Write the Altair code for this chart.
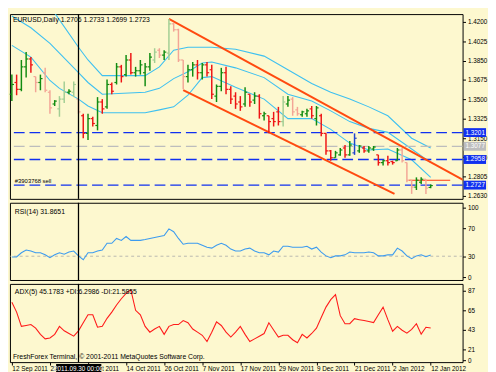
import altair as alt
import pandas as pd

# ---------------- data ----------------
idx = list(range(89))
opens = [1.3547,1.3653,1.3591,1.3794,1.3865,1.3706,1.3653,1.3741,1.3565,1.3459,
 1.3415,1.3503,1.3565,1.3565,1.3503,1.3353,1.3194,1.3327,1.3265,1.3477,
 1.3433,1.3635,1.3653,1.3794,1.3724,1.3856,1.3741,1.3759,1.3741,1.3794,
 1.3856,1.3944,1.3900,1.3918,1.4182,1.4129,1.3856,1.3706,1.3768,1.3812,
 1.3741,1.3812,1.3768,1.3530,1.3618,1.3741,1.3591,1.3530,1.3477,1.3459,
 1.3547,1.3494,1.3530,1.3353,1.3353,1.3327,1.3388,1.3300,1.3459,1.3503,
 1.3406,1.3362,1.3371,1.3415,1.3327,1.3353,1.3194,1.3036,1.2974,1.3000,
 1.3062,1.3000,1.3018,1.3036,1.3062,1.3036,1.3053,1.3000,1.2930,1.2947,
 1.2939,1.2947,1.3044,1.2930,1.2771,1.2709,1.2753,1.2780,1.2706]
highs = [1.3724,1.3724,1.3856,1.3927,1.3882,1.3706,1.3724,1.3785,1.3583,1.3494,
 1.3530,1.3662,1.3591,1.3662,1.3503,1.3371,1.3371,1.3344,1.3521,1.3503,
 1.3680,1.3653,1.3829,1.3812,1.3900,1.3918,1.3794,1.3856,1.3829,1.3918,
 1.3962,1.3962,1.3944,1.4226,1.4191,1.4138,1.3856,1.3812,1.3838,1.3856,
 1.3829,1.3838,1.3812,1.3635,1.3785,1.3794,1.3618,1.3565,1.3530,1.3609,
 1.3547,1.3565,1.3547,1.3388,1.3353,1.3388,1.3433,1.3530,1.3530,1.3521,
 1.3433,1.3397,1.3415,1.3441,1.3441,1.3371,1.3194,1.3044,1.3036,1.3062,
 1.3089,1.3124,1.3194,1.3089,1.3080,1.3080,1.3080,1.3000,1.2956,1.2992,
 1.2947,1.3062,1.3062,1.2930,1.2771,1.2797,1.2797,1.2780,1.2733]
lows = [1.3485,1.3538,1.3574,1.3697,1.3741,1.3565,1.3583,1.3565,1.3371,1.3441,
 1.3344,1.3468,1.3547,1.3521,1.3371,1.3150,1.3133,1.3256,1.3221,1.3371,
 1.3415,1.3547,1.3635,1.3653,1.3706,1.3724,1.3706,1.3724,1.3618,1.3759,
 1.3829,1.3874,1.3856,1.3856,1.4112,1.3838,1.3591,1.3653,1.3706,1.3680,
 1.3680,1.3706,1.3503,1.3477,1.3574,1.3547,1.3459,1.3415,1.3397,1.3433,
 1.3433,1.3459,1.3327,1.3309,1.3194,1.3256,1.3265,1.3256,1.3433,1.3353,
 1.3353,1.3344,1.3344,1.3327,1.3265,1.3168,1.3000,1.2947,1.2974,1.2992,
 1.2974,1.2992,1.3000,1.3018,1.3018,1.3018,1.3036,1.2903,1.2903,1.2903,
 1.2912,1.2947,1.2930,1.2753,1.2648,1.2683,1.2736,1.2648,1.2699]
closes = [1.3635,1.3591,1.3794,1.3865,1.3812,1.3653,1.3688,1.3583,1.3424,1.3485,
 1.3503,1.3565,1.3574,1.3635,1.3388,1.3194,1.3327,1.3283,1.3477,1.3415,
 1.3635,1.3574,1.3794,1.3706,1.3856,1.3741,1.3759,1.3812,1.3794,1.3882,
 1.3927,1.3900,1.3927,1.4182,1.4129,1.3856,1.3706,1.3768,1.3812,1.3741,
 1.3812,1.3741,1.3547,1.3618,1.3741,1.3591,1.3503,1.3459,1.3433,1.3565,
 1.3477,1.3530,1.3371,1.3371,1.3300,1.3300,1.3300,1.3477,1.3494,1.3388,
 1.3371,1.3388,1.3397,1.3353,1.3424,1.3194,1.3036,1.2974,1.3018,1.3044,
 1.3000,1.3089,1.3150,1.3080,1.3036,1.3062,1.3071,1.2930,1.2947,1.2930,
 1.2930,1.3044,1.2947,1.2771,1.2709,1.2771,1.2780,1.2700,1.2723]
shade = ["g","r","g","g","r","lr","g","lr","lr","g",
 "lg","lg","g","lg","lr","r","g","r","g","r",
 "g","r","g","r","g","r","g","g","g","g",
 "lg","lr","g","lg","lr","lr","lr","g","g","r",
 "g","r","r","g","g","r","r","r","r","g",
 "r","g","r","g","r","r","r","lg","g","lr",
 "lr","g","g","r","g","r","r","r","g","g",
 "r","g","b","g","r","g","g","r","g","r",
 "r","g","lr","lr","lr","g","g","lr","g"]

band_idx = [0,4,8,10,14,16,19,28,31,34,37,40,42,47,53,58,63,67,71,75,79,84,88]
band_upper = [1.4500,1.4429,1.4341,1.4218,1.3971,1.3856,1.3715,1.3715,1.3794,1.3944,1.3971,1.3971,
 1.3971,1.3953,1.3891,1.3768,1.3644,1.3565,1.3503,1.3433,1.3353,1.3150,1.3062]
band_mid = [1.4253,1.4147,1.4006,1.3918,1.3741,1.3653,1.3547,1.3565,1.3600,1.3688,1.3750,1.3829,
 1.3838,1.3785,1.3697,1.3547,1.3485,1.3397,1.3300,1.3239,1.3203,1.3053,1.2930]
band_lower = [1.3988,1.3882,1.3671,1.3600,1.3503,1.3441,1.3380,1.3380,1.3406,1.3433,1.3538,1.3697,
 1.3706,1.3609,1.3503,1.3327,1.3327,1.3230,1.3106,1.3044,1.3053,1.2956,1.2797]

rsi = [29,29,35,39,37.5,35,35,32,28,32,
 35,33,36,37.5,30.5,25,35,35,37.5,39,
 48.6,48.6,55.6,52.8,58.3,52.8,52.8,52.8,54,55.6,
 57,58.3,59.7,69.4,65.3,55.6,47.2,48.6,48.6,48.6,
 45.8,43,41.7,45.8,48.6,45.8,40.3,37.5,37.5,40.3,
 41.7,37.5,35,35,32,37.5,36,44.4,44.4,43,
 43,43,44.4,40.3,43,36,30.5,27.8,30.5,30.5,
 32,36,35,35,35,36,35,30.5,30.5,32,
 32,41.7,37.5,30.5,26.4,30.5,32,29.2,31.87]
adx = [74,63,47,48,49,45,38,33,34,38,
 47,42,39,36,42,51,60,60,46,47,
 56,63,71,78,84,88,65,60,47,40.5,
 44,47,38,47,49,49,53.5,51,44,40.5,
 37,30,40.5,52,48,40.5,35,40.5,47,38,
 30,33,36,39,51,43,35,37,37,32,
 28.6,38,34,39,45,57,68.6,77,82.7,59,
 50,50,55.6,54.5,53.5,52.4,51.3,60,68.6,54.5,
 41.6,47,42.6,39.4,43.7,50,38.3,46,45.18]

date_idx = [0, 8, 16, 24, 32, 40, 48, 56, 64, 72, 80, 88]
date_labels = ["12 Sep 2011", "22 Sep 2011", "4 Oct 2011", "14 Oct 2011", "26 Oct 2011",
               "7 Nov 2011", "17 Nov 2011", "29 Nov 2011", "9 Dec 2011", "21 Dec 2011",
               "2 Jan 2012", "12 Jan 2012"]
price_ticks = [1.4200, 1.4025, 1.3850, 1.3675, 1.3500, 1.3325, 1.3150, 1.2980, 1.2805, 1.2630]
levels = [1.3201, 1.3077, 1.2958, 1.2727]
level_kind = ["blue", "gray", "blue", "blue"]
channel_name = ["upper", "upper", "lower", "lower"]
channel_i = [33, 95, 36, 80.4]
channel_p = [1.4226, 1.2769, 1.3583, 1.2648]
order_line_i = [83.4, 92.1]
order_line_p = 1.2771
cursor_i = 14
cursor_text = "2011.09.30 00:00"
title_text = "EURUSD,Daily  1.2706 1.2733 1.2699 1.2723"
rsi_text = "RSI(14) 31.8651"
adx_text = "ADX(5) 45.1783 +DI:6.2986 -DI:21.5855"
copy_text = "FreshForex Terminal, \u00a9 2001-2011 MetaQuotes Software Corp."

# ---------------- styling ----------------
BG = "#FDF8CF"
FONT = "Liberation Sans"
FS = 6.5
W = 463
H_P, H_R, H_A = 189, 79, 80
shade_color = {"g": "#118C11", "r": "#EE1414", "lg": "#A2CE94", "lr": "#F3A596", "b": "#2244CC"}
kind_color = {"blue": "#1030F0", "gray": "#BDBDBD"}

xs = alt.Scale(domain=[-0.4, 94.7], nice=False, zero=False)
date_expr = "[" + ",".join("'%s'" % d for d in date_labels) + "][round(datum.value/8)]"
date_axis = alt.Axis(orient="bottom", values=date_idx, labelExpr=date_expr, labelAlign="left",
                     labelFontSize=FS, labelFont=FONT, labelColor="black", tickColor="black",
                     tickSize=3, domain=False, grid=False, labelPadding=1, title=None,
                     labelOverlap=False, labelFlush=False, labelBound=False)


def X(f):
    return alt.X(f, type="quantitative", scale=xs, axis=None)


def XA(f):
    return alt.X(f, type="quantitative", scale=xs, axis=date_axis)


py = alt.Scale(domain=[1.2603, 1.4270], nice=False, zero=False)
p_axis = alt.Axis(orient="right", values=price_ticks, format=".4f", title=None, grid=False,
                  domain=False, tickSize=3, labelFontSize=FS, labelFont=FONT,
                  labelColor="black", tickColor="black", labelPadding=2)


def YP(f):
    return alt.Y(f, type="quantitative", scale=py, axis=p_axis)


ry = alt.Scale(domain=[-4.2, 106.9], nice=False, zero=False)
r_axis = alt.Axis(orient="right", values=[0, 30, 70, 100], format="d", title=None, grid=False,
                  domain=False, tickSize=3, labelFontSize=FS, labelFont=FONT,
                  labelColor="black", tickColor="black", labelPadding=2)


def YR(f):
    return alt.Y(f, type="quantitative", scale=ry, axis=r_axis)


ay = alt.Scale(domain=[6.9, 94.6], nice=False, zero=False)
a_axis = alt.Axis(orient="right", values=[9, 21, 43, 65, 87], labelExpr="datum.value < 10 ? '0' : datum.label",
                  title=None, grid=False, domain=False, tickSize=3, labelFontSize=FS, labelFont=FONT,
                  labelColor="black", tickColor="black", labelPadding=2)


def YA(f):
    return alt.Y(f, type="quantitative", scale=ay, axis=a_axis)


# ---------------- tables ----------------
bars = pd.DataFrame({"i": idx, "open": opens, "high": highs, "low": lows,
                     "close": closes, "shade": shade})
bars["il"] = bars["i"] - 0.45
bars["ir"] = bars["i"] + 0.45
bars["col"] = bars["shade"].map(shade_color)

band_rows = []
for name, vals in (("upper", band_upper), ("mid", band_mid), ("lower", band_lower)):
    for i, v in zip(band_idx, vals):
        band_rows.append({"i": i, "v": v, "band": name})
bands = pd.DataFrame(band_rows)

lv = pd.DataFrame({"level": levels, "kind": level_kind})
lv["col"] = lv["kind"].map(kind_color)
lv["hi"] = lv["level"] + 0.0040
lv["lo"] = lv["level"] - 0.0040
lv["txt"] = ["%.4f" % v for v in levels]

ch = pd.DataFrame({"name": channel_name, "i": channel_i, "p": channel_p})
order = pd.DataFrame({"i0": [order_line_i[0]], "i1": [order_line_i[1]], "p": [order_line_p]})
cur = pd.DataFrame({"i": [cursor_i], "il": [cursor_i - 4.7], "ir": [cursor_i + 4.8], "txt": [cursor_text]})
one = pd.DataFrame({"a": [0]})
sell = pd.DataFrame({"level": [levels[3]], "txt": ["#3903768 sell"]})
rsi_df = pd.DataFrame({"i": idx, "v": rsi})
adx_df = pd.DataFrame({"i": idx, "v": adx})
r30 = pd.DataFrame({"v": [30]})

# ---------------- price panel ----------------
band_layer = alt.Chart(bands).mark_line(color="#3EC0F0", strokeWidth=1.1, clip=True).encode(
    x=X("i"), y=YP("v"), detail="band:N")
hl_layer = alt.Chart(bars).mark_rule(strokeWidth=1.5).encode(
    x=X("i"), y=YP("low"), y2="high:Q", color=alt.Color("col:N", scale=None))
op_layer = alt.Chart(bars).mark_rule(strokeWidth=1.2).encode(
    x=X("il"), x2="i:Q", y=YP("open"), color=alt.Color("col:N", scale=None))
cl_layer = alt.Chart(bars).mark_rule(strokeWidth=1.2).encode(
    x=X("i"), x2="ir:Q", y=YP("close"), color=alt.Color("col:N", scale=None))
lev_layer = alt.Chart(lv).mark_rule(strokeDash=[11, 5], strokeWidth=1.4).encode(
    y=YP("level"), color=alt.Color("col:N", scale=None))
ch_layer = alt.Chart(ch).mark_line(color="#FF4A10", strokeWidth=2, clip=True).encode(
    x=X("i"), y=YP("p"), detail="name:N")
ord_layer = alt.Chart(order).mark_rule(color="#FF3A10", strokeWidth=1.2).encode(
    x=X("i0"), x2="i1:Q", y=YP("p"))
cur_p = alt.Chart(cur).mark_rule(color="black", strokeWidth=1.3).encode(x=X("i"))
title_layer = alt.Chart(one).mark_text(align="left", baseline="top", fontSize=7, font=FONT,
                                       color="black").encode(
    x=alt.value(3), y=alt.value(2), text=alt.value(title_text))
sell_layer = alt.Chart(sell).mark_text(align="left", baseline="bottom", dy=-1, fontSize=6,
                                       font=FONT, color="black").encode(
    x=alt.value(5), y=YP("level"), text="txt:N")
box_layer = alt.Chart(lv).mark_rect().encode(
    x=alt.value(W + 1), x2=alt.value(W + 24), y=YP("hi"), y2="lo:Q",
    color=alt.Color("col:N", scale=None))
boxtxt_layer = alt.Chart(lv).mark_text(align="left", baseline="middle", fontSize=FS, font=FONT,
                                       color="white").encode(
    x=alt.value(W + 3), y=YP("level"), text="txt:N")

price = alt.layer(band_layer, lev_layer, ch_layer, ord_layer, hl_layer, op_layer, cl_layer,
                  cur_p, title_layer, sell_layer, box_layer, boxtxt_layer).properties(
    width=W, height=H_P)

# ---------------- RSI panel ----------------
r30_layer = alt.Chart(r30).mark_rule(color="#A8A8A8", strokeDash=[3, 3], strokeWidth=0.8).encode(
    y=YR("v"))
rsi_layer = alt.Chart(rsi_df).mark_line(color="#3C9BEF", strokeWidth=1.1).encode(
    x=X("i"), y=YR("v"))
cur_r = alt.Chart(cur).mark_rule(color="black", strokeWidth=1.3).encode(x=X("i"))
rsi_lab = alt.Chart(one).mark_text(align="left", baseline="middle", fontSize=7, font=FONT,
                                   color="black").encode(
    x=alt.value(5), y=alt.value(9), text=alt.value(rsi_text))
rsi_panel = alt.layer(r30_layer, rsi_layer, cur_r, rsi_lab).properties(width=W, height=H_R)

# ---------------- ADX panel ----------------
adx_layer = alt.Chart(adx_df).mark_line(color="#FF1A1A", strokeWidth=1.1).encode(
    x=XA("i"), y=YA("v"))
cur_a = alt.Chart(cur).mark_rule(color="black", strokeWidth=1.3).encode(x=XA("i"))
adx_lab = alt.Chart(one).mark_text(align="left", baseline="middle", fontSize=7, font=FONT,
                                   color="black").encode(
    x=alt.value(5), y=alt.value(8), text=alt.value(adx_text))
copy_lab = alt.Chart(one).mark_text(align="left", baseline="middle", fontSize=7, font=FONT,
                                    color="black").encode(
    x=alt.value(3), y=alt.value(H_A - 5), text=alt.value(copy_text))
cur_box = alt.Chart(cur).mark_rect(color="black").encode(
    x=XA("il"), x2="ir:Q", y=alt.value(H_A + 2), y2=alt.value(H_A + 11))
cur_txt = alt.Chart(cur).mark_text(align="center", baseline="middle", fontSize=FS, font=FONT,
                                   color="white").encode(
    x=XA("i"), y=alt.value(H_A + 7), text="txt:N")
adx_panel = alt.layer(adx_layer, cur_a, adx_lab, copy_lab, cur_box, cur_txt).properties(
    width=W, height=H_A)

chart = alt.vconcat(price, rsi_panel, adx_panel, spacing=0).properties(
    background=BG, padding=0).configure_view(stroke="black", strokeWidth=1).configure_concat(spacing=0)

chart.save("out.html", embed_options={"renderer": "svg", "actions": False})
